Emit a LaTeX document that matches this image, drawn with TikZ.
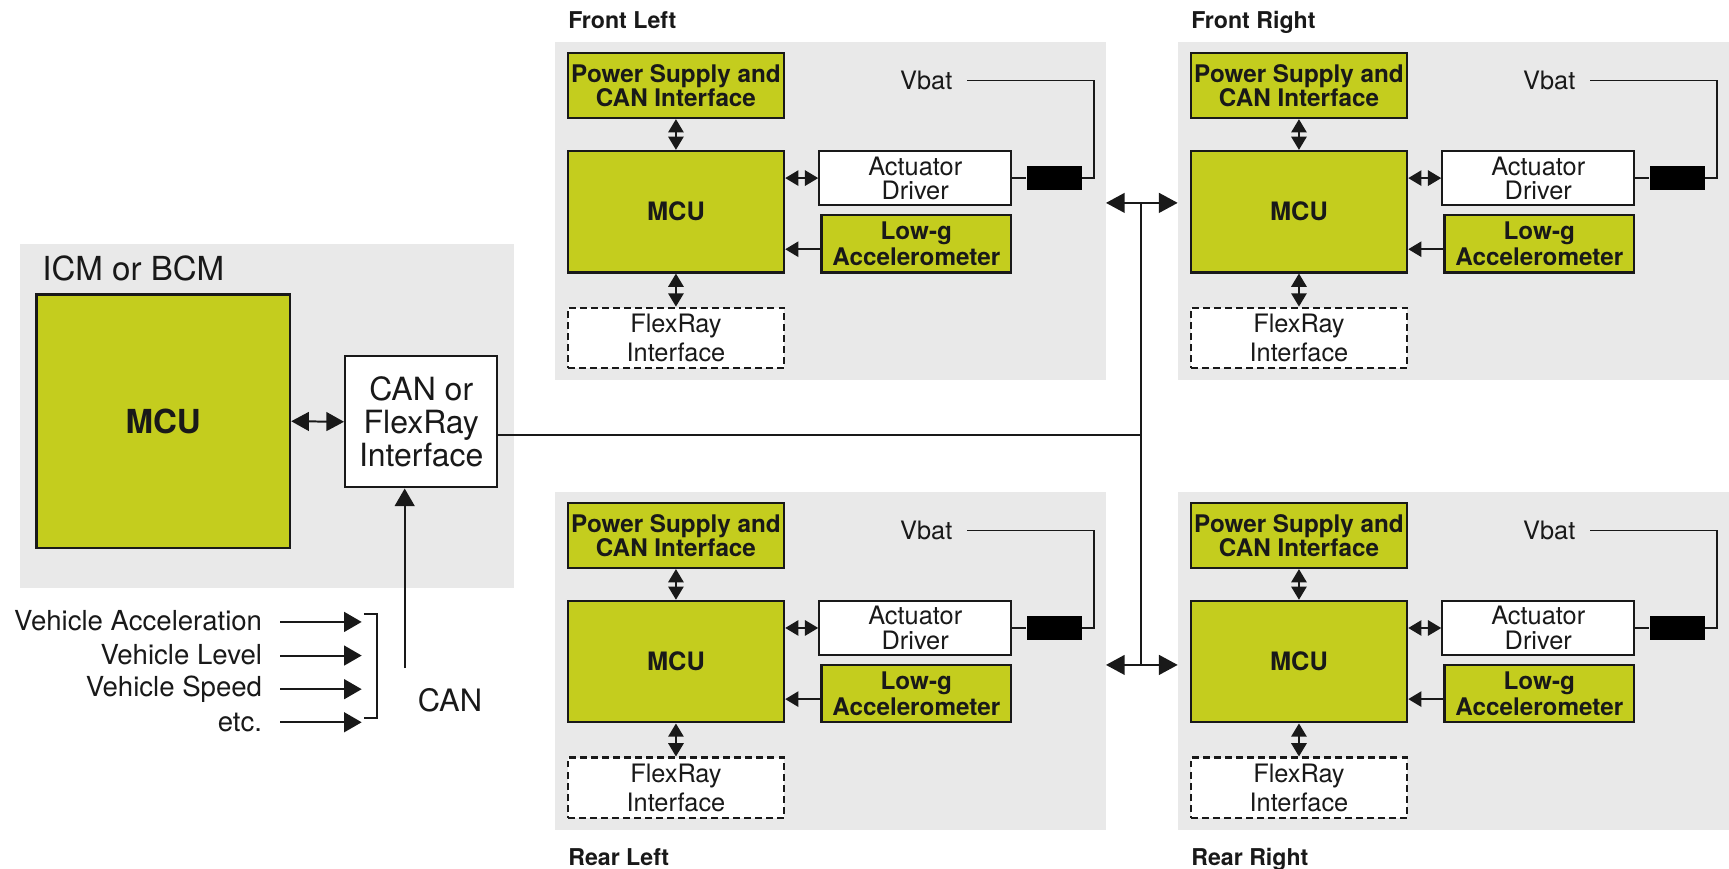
\documentclass[tikz,border=0pt]{standalone}
\usepackage{fontspec}
\setmainfont{TeX Gyre Heros}
\usetikzlibrary{arrows.meta}
\definecolor{limeg}{RGB}{196,205,30}
\definecolor{panelg}{RGB}{233,233,233}
\definecolor{ink}{RGB}{25,25,25}
\tikzset{
  panelbox/.style={fill=panelg, draw=none, inner sep=0pt, outer sep=0pt},
  gbox/.style={draw=ink, line width=1.1pt, fill=limeg, inner sep=0pt, align=center, text=ink},
  wbox/.style={draw=ink, line width=1pt, fill=white, inner sep=0pt, align=center, text=ink},
  dbox/.style={wbox, dash pattern=on 3pt off 2pt},
  lbl/.style={inner sep=0pt, text=ink},
  conn/.style={draw=ink, line width=0.7pt},
  sdbl/.style={conn, {Triangle[length=6pt,width=7pt]}-{Triangle[length=6pt,width=7pt]}},
  sone/.style={conn, -{Triangle[length=6pt,width=7pt]}},
  bdbl/.style={conn, line width=0.8pt, {Triangle[length=8.5pt,width=9pt]}-{Triangle[length=8.5pt,width=9pt]}},
  idbl/.style={conn, line width=0.9pt, {Triangle[length=8pt,width=8.5pt]}-{Triangle[length=8pt,width=8.5pt]}},
  ione/.style={conn, line width=0.9pt, -{Triangle[length=8pt,width=9pt]}},
}
\newcommand\mkmodule[5]{%
\begin{scope}[shift={(#2,#3)}]
\node[panelbox, minimum width=250pt, minimum height=153.5pt] (#1pan) at (753,191.5) {};
\node[lbl, anchor=base west, font=\bfseries\fontsize{10.5}{12}\selectfont] (#1lab) at (515,#5) {#4};
\node[gbox, minimum width=98pt, minimum height=29.5pt, font=\bfseries\fontsize{11}{11}\selectfont] (#1ps) at (613,77.5) {Power Supply and\\CAN Interface};
\node[gbox, minimum width=98pt, minimum height=55pt, font=\bfseries\fontsize{11.5}{12}\selectfont] (#1mcu) at (613,192) {MCU};
\node[dbox, minimum width=98pt, minimum height=27.5pt, font=\fontsize{11.5}{13}\selectfont] (#1fx) at (613,306.5) {FlexRay\\Interface};
\node[wbox, minimum width=87pt, minimum height=24.5pt, font=\fontsize{11.5}{11}\selectfont] (#1act) at (830,161.5) {Actuator\\Driver};
\node[gbox, minimum width=86pt, minimum height=26pt, font=\bfseries\fontsize{11}{11.5}\selectfont] (#1acc) at (831,221) {Low-g\\Accelerometer};
\node[fill=black, minimum width=25pt, minimum height=11pt, inner sep=0pt] (#1blk) at (956,161.5) {};
\node[lbl, font=\fontsize{11.5}{12}\selectfont] (#1vb) at (840,73) {Vbat};
\coordinate (#1vc) at (992,73);
\draw[conn, line width=0.6pt] ([xshift=6.5pt]#1vb.east) -- (#1vc) |- (#1blk.east);
\draw[conn, line width=0.6pt] (#1act.east) -- (#1blk.west);
\draw[sdbl] (#1act.west) -- (#1act.west -| #1mcu.east);
\draw[sone] ([yshift=-2.5pt]#1acc.west) -- ([yshift=-2.5pt]#1acc.west -| #1mcu.east);
\draw[sdbl] (#1ps.south) -- (#1mcu.north);
\draw[sdbl] (#1mcu.south) -- (#1fx.north);
\end{scope}}
\begin{document}
\begin{tikzpicture}[x=0.5pt, y=-0.5pt]
\useasboundingbox[fill=white] (0,0) rectangle (1568,788);
% modules
\mkmodule{FL}{0}{0}{Front Left}{25.5}
\mkmodule{FR}{565}{0}{Front Right}{25.5}
\mkmodule{RL}{0}{408}{Rear Left}{376.5}
\mkmodule{RR}{565}{408}{Rear Right}{376.5}
% ICM / BCM
\node[panelbox, minimum width=224pt, minimum height=156pt] (icm) at (242,377) {};
\node[lbl, anchor=west, font=\fontsize{15}{16}\selectfont] (icmlab) at (38,243) {ICM or BCM};
\node[gbox, minimum width=115pt, minimum height=115pt, font=\bfseries\fontsize{15}{16}\selectfont] (imcu) at (148,382) {MCU};
\node[wbox, minimum width=69pt, minimum height=59.5pt, font=\fontsize{14.5}{15}\selectfont] (can) at (382,382.5) {CAN or\\FlexRay\\Interface};
\draw[idbl] (imcu.east) -- (can.west);
% bus
\coordinate (busT) at (1035,184);
\coordinate (busB) at (1035,603);
\draw[conn, line width=0.8pt] (busT) -- (busB);
\draw[bdbl] (FLpan.east |- busT) -- (FRpan.west |- busT);
\draw[bdbl] (RLpan.east |- busB) -- (RRpan.west |- busB);
\draw[conn, line width=0.8pt] ([yshift=-6pt]can.east) -- ([yshift=-6pt]can.east -| busT);
% CAN input
\coordinate (canfoot) at (367,606);
\draw[ione] (canfoot) -- (canfoot |- can.south);
\node[lbl, font=\fontsize{14}{15}\selectfont] (canlab) at (408,635) {CAN};
% vehicle inputs
\node[lbl, anchor=east, font=\fontsize{12.5}{13}\selectfont] (in1) at (238,563) {Vehicle Acceleration};
\node[lbl, anchor=east, font=\fontsize{12.5}{13}\selectfont] (in2) at (238,594) {Vehicle Level};
\node[lbl, anchor=east, font=\fontsize{12.5}{13}\selectfont] (in3) at (238,625) {Vehicle Speed};
\node[lbl, anchor=east, font=\fontsize{12.5}{13}\selectfont] (in4) at (238,655) {etc.};
\coordinate (e1) at (328,564);
\coordinate (e2) at (328,594.5);
\coordinate (e3) at (328,625);
\coordinate (e4) at (328,655);
\foreach \i in {1,2,3,4}{
  \draw[ione] (e\i -| 254,0) -- (e\i);
}
\coordinate (brt) at (342,557);
\coordinate (brb) at (342,651);
\draw[conn, line width=0.8pt] ([xshift=-6pt]brt) -- (brt) -- (brb) -- ([xshift=-6pt]brb);
\end{tikzpicture}
\end{document}
